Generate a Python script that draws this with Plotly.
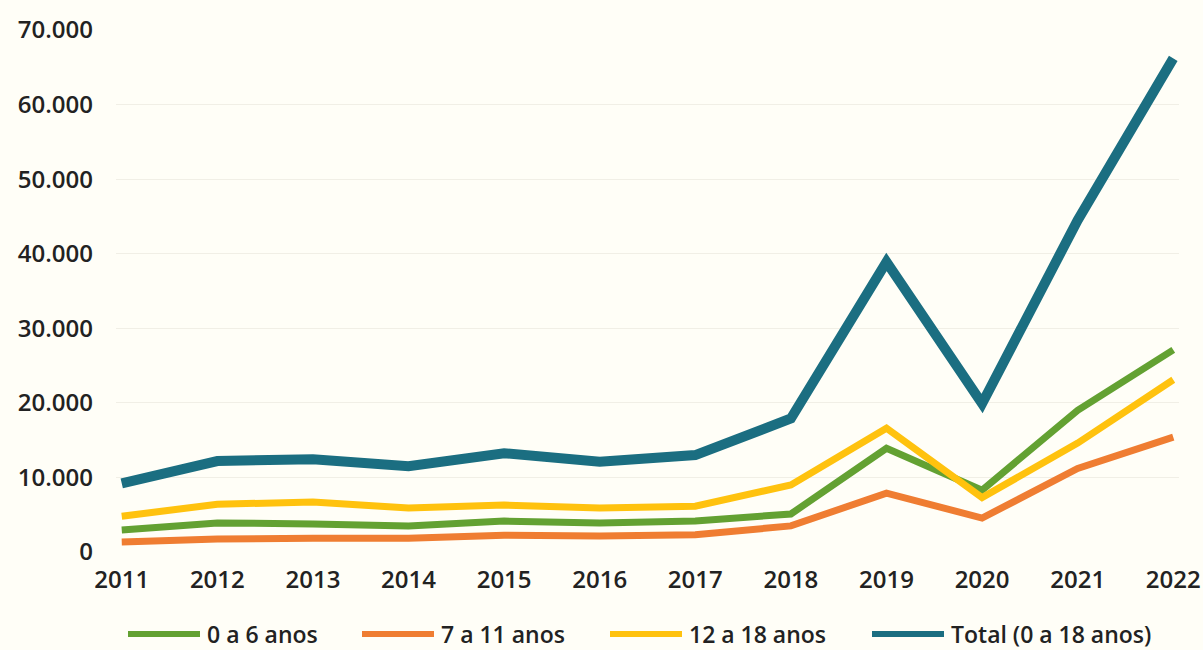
import plotly.graph_objects as go

years = [2011, 2012, 2013, 2014, 2015, 2016, 2017, 2018, 2019, 2020, 2021, 2022]

series_names = ["0 a 6 anos", "7 a 11 anos", "12 a 18 anos", "Total (0 a 18 anos)"]
age_0_6 = [2950, 3900, 3750, 3500, 4150, 3900, 4150, 5100, 13900, 8300, 19000, 27100]
age_7_11 = [1350, 1750, 1850, 1850, 2250, 2150, 2300, 3500, 7900, 4550, 11200, 15400]
age_12_18 = [4800, 6400, 6700, 5900, 6300, 5900, 6150, 9000, 16600, 7300, 14600, 23100]
total = [9200, 12200, 12450, 11500, 13250, 12100, 13000, 17900, 38900, 19900, 44500, 66200]

colors = ["#63A132", "#EF7D32", "#FFC20E", "#1B6E81"]
widths = [7, 7, 7, 10]

y_ticks = [0, 10000, 20000, 30000, 40000, 50000, 60000, 70000]
y_tick_labels = ["0", "10.000", "20.000", "30.000", "40.000", "50.000", "60.000", "70.000"]

fig = go.Figure()
all_series = [age_0_6, age_7_11, age_12_18, total]
for name, vals, col, w in zip(series_names, all_series, colors, widths):
    fig.add_trace(go.Scatter(
        x=years, y=vals, mode="lines", name=name,
        line=dict(color=col, width=w, shape="linear"),
        showlegend=False,
    ))

bg = "#FFFEF7"
W, H = 1203, 650
L, R, T, B = 116, 24, 30, 98
fig.update_layout(
    width=W, height=H,
    paper_bgcolor=bg, plot_bgcolor=bg,
    margin=dict(l=L, r=R, t=T, b=B, autoexpand=False),
    font=dict(family="Open Sans", size=20, color="#222222"),
    xaxis=dict(
        range=[2010.94, 2022.06], tickmode="array", tickvals=years,
        ticktext=[str(y) for y in years], showgrid=False, zeroline=False,
        showline=False, ticks="", ticklabelstandoff=11, automargin=False,
        ticklabeloverflow="allow",
        tickfont=dict(family="Open Sans", size=24, color="#222222", weight=600),
    ),
    yaxis=dict(
        range=[0, 70000], tickmode="array", tickvals=y_ticks, ticktext=y_tick_labels,
        showgrid=True, gridcolor="#F1EFE6", gridwidth=1, zeroline=False,
        showline=False, ticks="", ticklabelstandoff=22, automargin=False,
        tickfont=dict(family="Open Sans", size=24, color="#222222", weight=600),
    ),
)

# custom legend (long line symbols as in the reference)
pw = W - L - R
ph = H - T - B
legend_x = [128, 362, 610, 872]
ly = -(634 - (H - B)) / ph
for name, col, x0 in zip(series_names, colors, legend_x):
    fig.add_shape(type="line", xref="paper", yref="paper",
                  x0=(x0 - L) / pw, x1=(x0 + 72 - L) / pw,
                  y0=ly, y1=ly,
                  line=dict(color=col, width=6))
    fig.add_annotation(xref="paper", yref="paper",
                       x=(x0 + 77 - L) / pw, y=ly,
                       text=name, showarrow=False, xanchor="left", yanchor="middle",
                       font=dict(family="Open Sans", size=23, color="#222222", weight=600))

fig.write_html(
    "out.html",
    config={"displayModeBar": False},
    post_script="document.body.style.margin='0';document.body.style.overflow='hidden';",
)
